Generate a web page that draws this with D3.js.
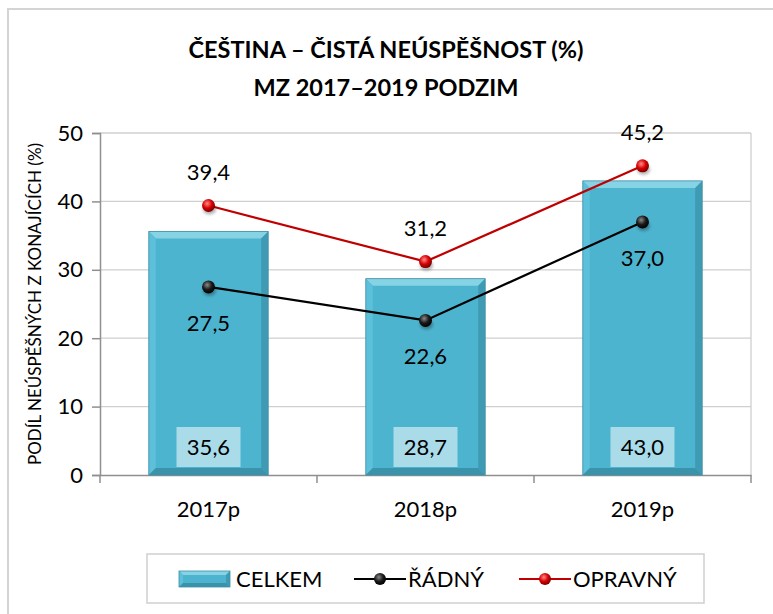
<!DOCTYPE html>
<html><head><meta charset="utf-8">
<script src="https://cdn.jsdelivr.net/npm/d3@7"></script>
<style>html,body{margin:0;padding:0;background:#fff;}svg{display:block;}</style>
</head><body>
<svg id="c" width="773" height="614"></svg>
<script>
const categories = ["2017p", "2018p", "2019p"];
const celkem = [35.6, 28.7, 43.0];
const radny = [27.5, 22.6, 37.0];
const opravny = [39.4, 31.2, 45.2];
const yTicks = [0, 10, 20, 30, 40, 50];
const titleLines = ["ČEŠTINA – ČISTÁ NEÚSPĚŠNOST (%)", "MZ 2017–2019 PODZIM"];
const yLabel = "PODÍL NEÚSPĚŠNÝCH Z KONAJÍCÍCH (%)";
const legendNames = ["CELKEM", "ŘÁDNÝ", "OPRAVNÝ"];

const fmt = v => d3.format(".1f")(v).replace(".", ",");
const FONT = "Lato, Carlito, 'Open Sans', sans-serif";
const FS = 22;
const svg = d3.select("#c");

// defs
const defs = svg.append("defs");
function ballGrad(id, light, mid, dark) {
  const g = defs.append("radialGradient").attr("id", id).attr("cx", "40%").attr("cy", "35%").attr("r", "65%");
  g.append("stop").attr("offset", "0%").attr("stop-color", light);
  g.append("stop").attr("offset", "55%").attr("stop-color", mid);
  g.append("stop").attr("offset", "100%").attr("stop-color", dark);
}
ballGrad("gRed", "#ff8a8a", "#d80000", "#7a0000");
ballGrad("gBlk", "#8a8a8a", "#1a1a1a", "#000000");
const shadowF = defs.append("filter").attr("id", "sh").attr("x", "-50%").attr("y", "-50%").attr("width", "200%").attr("height", "200%");
shadowF.append("feGaussianBlur").attr("stdDeviation", 1.6);

// outer border
svg.append("rect").attr("x", 8).attr("y", 9).attr("width", 800).attr("height", 700)
  .attr("fill", "none").attr("stroke", "#d4d4d4").attr("stroke-width", 2);

// title
svg.append("g").selectAll("text").data(titleLines).join("text")
  .attr("x", 386).attr("y", (d, i) => 58 + i * 38)
  .attr("text-anchor", "middle").attr("font-family", FONT).attr("font-weight", "bold")
  .attr("font-size", 23.5).attr("fill", "#000").text(d => d);

const L = 100, R = 751, T = 133, B = 475;
const y = d3.scaleLinear().domain([0, 50]).range([B, T]);
const x = d3.scaleBand().domain(categories).range([L, R]).paddingInner(0.45).paddingOuter(0.225);
const step = x.step();

// gridlines
svg.append("g").selectAll("line").data(yTicks.filter(t => t > 0)).join("line")
  .attr("x1", L).attr("x2", R).attr("y1", d => y(d)).attr("y2", d => y(d))
  .attr("stroke", "#cfcfcf").attr("stroke-width", 1.3);
// right plot border
svg.append("line").attr("x1", R).attr("x2", R).attr("y1", T).attr("y2", B)
  .attr("stroke", "#cfcfcf").attr("stroke-width", 1.3);

// y axis
const yAxis = d3.axisLeft(y).tickValues(yTicks).tickSize(8).tickPadding(9).tickFormat(d3.format("d"));
const gy = svg.append("g").attr("transform", `translate(${L},0)`).call(yAxis);
gy.select(".domain").attr("stroke", "#8f8f8f").attr("stroke-width", 1.5);
gy.selectAll(".tick line").attr("stroke", "#8f8f8f").attr("stroke-width", 1.5);
gy.selectAll(".tick text").attr("font-family", FONT).attr("font-size", FS).attr("fill", "#000");

// x axis
const xAxis = d3.axisBottom(x).tickSize(0).tickPadding(26);
const gx = svg.append("g").attr("transform", `translate(0,${B})`).call(xAxis);
gx.select(".domain").attr("stroke", "#8f8f8f").attr("stroke-width", 1.5);
gx.selectAll(".tick text").attr("font-family", FONT).attr("font-size", FS).attr("fill", "#000");
// category boundary ticks
const bounds = d3.range(categories.length + 1).map(i => L + i * step);
svg.append("g").selectAll("line").data(bounds).join("line")
  .attr("x1", d => d).attr("x2", d => d).attr("y1", B).attr("y2", B + 8)
  .attr("stroke", "#8f8f8f").attr("stroke-width", 1.5);

// bars with bevel
function bevelBar(g, x0, y0, w, h, bw) {
  const x1 = x0 + w, y1 = y0 + h;
  g.append("rect").attr("x", x0).attr("y", y0).attr("width", w).attr("height", h).attr("fill", "#4db4cf");
  g.append("polygon").attr("points", `${x0},${y0} ${x1},${y0} ${x1-bw},${y0+bw} ${x0+bw},${y0+bw}`).attr("fill", "#86d3e6");
  g.append("polygon").attr("points", `${x0},${y0} ${x0+bw},${y0+bw} ${x0+bw},${y1-bw} ${x0},${y1}`).attr("fill", "#5cc0da");
  g.append("polygon").attr("points", `${x1},${y0} ${x1},${y1} ${x1-bw},${y1-bw} ${x1-bw},${y0+bw}`).attr("fill", "#3f9bb4");
  g.append("polygon").attr("points", `${x0},${y1} ${x0+bw},${y1-bw} ${x1-bw},${y1-bw} ${x1},${y1}`).attr("fill", "#3b93ab");
  g.append("rect").attr("x", x0).attr("y", y0).attr("width", w).attr("height", h)
    .attr("fill", "none").attr("stroke", "#3e8ea4").attr("stroke-width", 0.8);
}
const barsG = svg.append("g");
categories.forEach((c, i) => {
  const g = barsG.append("g");
  bevelBar(g, x(c), y(celkem[i]), x.bandwidth(), y(0) - y(celkem[i]), 7);
});

// bar value labels
const barLab = svg.append("g");
categories.forEach((c, i) => {
  const cx = x(c) + x.bandwidth() / 2;
  barLab.append("rect").attr("x", cx - 32).attr("y", 427).attr("width", 64).attr("height", 40).attr("fill", "#a9dbe9");
  barLab.append("text").attr("x", cx).attr("y", 455).attr("text-anchor", "middle")
    .attr("font-family", FONT).attr("font-size", FS).attr("fill", "#000").text(fmt(celkem[i]));
});

// lines
const line = d3.line().x((d, i) => x(categories[i]) + x.bandwidth() / 2).y(d => y(d));
function series(vals, color, grad, labelDy) {
  const g = svg.append("g");
  g.append("path").attr("d", line(vals)).attr("fill", "none").attr("stroke", color).attr("stroke-width", 2.2);
  vals.forEach((v, i) => {
    const cx = x(categories[i]) + x.bandwidth() / 2, cy = y(v);
    g.append("ellipse").attr("cx", cx + 1).attr("cy", cy + 4).attr("rx", 6.5).attr("ry", 5).attr("fill", "rgba(0,0,0,0.3)").attr("filter", "url(#sh)");
    g.append("circle").attr("cx", cx).attr("cy", cy).attr("r", 6.5).attr("fill", `url(#${grad})`);
    g.append("text").attr("x", cx).attr("y", cy + labelDy).attr("text-anchor", "middle")
      .attr("font-family", FONT).attr("font-size", FS).attr("fill", "#000").text(fmt(v));
  });
}
series(radny, "#000000", "gBlk", 44);
series(opravny, "#c00000", "gRed", -26);

// y label
svg.append("text").attr("transform", `translate(41,${(T + B) / 2}) rotate(-90)`)
  .attr("text-anchor", "middle").attr("font-family", FONT).attr("font-size", 17).attr("fill", "#000").text(yLabel);

// legend
const lg = svg.append("g");
lg.append("rect").attr("x", 147).attr("y", 554).attr("width", 557).attr("height", 49)
  .attr("fill", "#fff").attr("stroke", "#cfcfcf").attr("stroke-width", 1.5);
bevelBar(lg.append("g"), 179, 571, 51, 16, 4);
lg.append("text").attr("x", 236).attr("y", 587).attr("font-family", FONT).attr("font-size", FS).text(legendNames[0]);
function legLine(x0, color, grad, name) {
  lg.append("line").attr("x1", x0).attr("x2", x0 + 52).attr("y1", 579).attr("y2", 579).attr("stroke", color).attr("stroke-width", 2.2);
  lg.append("circle").attr("cx", x0 + 26).attr("cy", 579).attr("r", 6).attr("fill", `url(#${grad})`);
  lg.append("text").attr("x", x0 + 54).attr("y", 587).attr("font-family", FONT).attr("font-size", FS).text(name);
}
legLine(354, "#000000", "gBlk", legendNames[1]);
legLine(519, "#c00000", "gRed", legendNames[2]);
</script>
</body></html>
